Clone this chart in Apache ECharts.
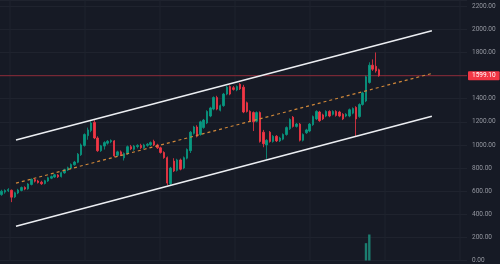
<!DOCTYPE html>
<html>
<head>
<meta charset="utf-8">
<script src="https://cdn.jsdelivr.net/npm/echarts@6/dist/echarts.min.js"></script>
<style>
html,body{margin:0;padding:0;background:#161a25;}
#chart{width:500px;height:264px;}
</style>
</head>
<body>
<div id="chart"></div>
<script>
// [open, close, low, high]
const candles = [
[570,600,560,612],[592,606,578,616],[604,614,592,626],[608,548,505,614],[550,586,540,594],
[584,610,574,620],[606,632,598,640],[632,618,608,642],[620,662,612,670],[658,702,650,710],
[700,686,675,712],[688,674,666,698],[678,664,654,690],[666,690,658,698],[688,716,680,724],
[712,726,704,736],[722,742,714,750],[740,724,714,748],[726,760,718,768],[758,786,750,794],
[782,802,774,812],[798,830,790,840],[828,852,820,862],[850,920,842,930],[915,1000,905,1012],
[995,1090,985,1100],[1080,1130,1045,1150],[1125,1190,1110,1205],[1195,1060,1050,1215],[1060,950,940,1075],
[950,992,940,1000],[990,1020,960,1032],[1015,1032,1002,1042],[1028,1038,1015,1048],[1035,905,895,1042],
[910,940,900,950],[940,915,905,952],[888,925,865,935],[925,985,915,995],[985,965,955,1000],
[962,990,950,1000],[986,996,970,1006],[996,976,964,1010],[976,1000,966,1010],[996,1006,984,1016],
[1002,1020,990,1030],[1030,1000,990,1045],[1000,975,965,1010],[975,935,925,985],[935,890,880,945],
[890,670,650,900],[665,800,650,810],[860,775,765,885],[780,870,770,880],[870,790,780,882],
[800,890,790,900],[885,960,875,970],[950,1110,930,1120],[1100,1155,1090,1165],[1155,1075,1065,1170],
[1090,1200,1080,1210],[1150,1215,1140,1225],[1190,1290,1180,1300],[1250,1320,1240,1330],[1310,1410,1300,1420],
[1410,1310,1300,1425],[1300,1340,1290,1350],[1340,1440,1330,1450],[1440,1500,1430,1510],[1505,1440,1430,1515],
[1495,1480,1470,1510],[1475,1505,1465,1515],[1525,1485,1475,1535],[1500,1285,1275,1520],[1365,1290,1280,1375],
[1290,1210,1200,1300],[1280,1200,1120,1290],[1205,1280,1195,1290],[1280,1030,1020,1290],[1110,1010,980,1130],
[1000,1040,880,1050],[1110,1030,1020,1120],[1030,1075,1020,1085],[1075,1035,1025,1085],[1035,1060,1025,1070],
[1050,1090,1040,1100],[1090,1150,1080,1160],[1140,1220,1130,1230],[1240,1160,1150,1250],[1160,1180,1150,1190],
[1180,1040,1030,1190],[1040,1090,1030,1100],[1105,1130,1095,1140],[1120,1180,1110,1190],[1175,1245,1165,1255],
[1225,1290,1215,1300],[1285,1210,1200,1295],[1260,1225,1215,1270],[1250,1290,1240,1300],[1290,1250,1240,1300],
[1265,1290,1255,1300],[1290,1255,1245,1300],[1285,1250,1240,1295],[1265,1225,1215,1275],[1250,1265,1240,1275],
[1250,1305,1240,1315],[1275,1315,1265,1325],[1325,1225,1075,1335],[1245,1350,1235,1360],[1350,1450,1340,1460],
[1380,1590,1370,1600],[1540,1690,1530,1715],[1690,1655,1640,1740],[1680,1640,1625,1800],[1650,1599.1,1590,1660]
];
const volumes = [
0,0,0,0,0,0,0,0,0,0, 0,0,0,0,0,0,0,0,0,0,
0,0,0,0,0,0,0,0,0,0, 0,0,0,0,0,0,0,0,0,0,
0,0,0,0,0,0,0,0,0,0, 0,0,0,0,0,0,0,0,0,0,
0,0,0,0,0,0,0,0,0,0, 0,0,0,0,0,0,0,0,0,0,
0,0,0,0,0,0,0,0,0,0, 0,0,0,0,0,0,0,0,0,0,
0,0,0,0,0,0,0,0,0,0, 150,225,0,0,0
];
const futureSlots = 26;           // empty bars to the right of the last candle
const lastPrice = 1599.10;
// channel drawn between two bar positions (bar index, price)
const channelBars = [4.33, 129.9];
const upperChannel = [1043, 1988];
const lowerChannel = [296, 1249];
const midChannel = [(upperChannel[0]+lowerChannel[0])/2, (upperChannel[1]+lowerChannel[1])/2];
// time-scale grid lines (bar index positions)
const timeTicks = [2.52, 25.16, 47.81, 70.45, 93.1, 115.74, 138.39];
const yMin = 0, yMax = 2254, yStep = 200;

const totalSlots = candles.length + futureSlots;
const categories = Array.from({length: totalSlots}, (_, i) => String(i + 1));
const volData = categories.map((_, i) => i < volumes.length ? volumes[i] : null);
const xLo = -0.5, xHi = totalSlots - 0.5;

const gridData = [];
timeTicks.forEach(t => { gridData.push([t, yMin], [t, yMax], [t, null]); });

const chart = echarts.init(document.getElementById('chart'), null, {renderer: 'canvas'});
const lineOf = (vals) => [[channelBars[0], vals[0]], [channelBars[1], vals[1]]];

chart.setOption({
  animation: false,
  backgroundColor: '#161a25',
  textStyle: {fontFamily: 'Roboto'},
  grid: {left: 0, top: 0, width: 467, bottom: 1.6},
  xAxis: [
    {type: 'category', data: categories, boundaryGap: true, show: false},
    {type: 'value', min: xLo, max: xHi, show: false}
  ],
  yAxis: {
    type: 'value', position: 'right', min: yMin, max: yMax, interval: yStep,
    axisLine: {show: false}, axisTick: {show: false},
    axisLabel: {color: '#9497a0', fontSize: 6.5, margin: 5, showMaxLabel: false,
      formatter: v => v.toFixed(2)},
    splitLine: {lineStyle: {color: '#1f232e', width: 1}}
  },
  series: [
    {
      name: 'timeGrid', type: 'line', xAxisIndex: 1, data: gridData, silent: true, z: 0,
      symbol: 'none', connectNulls: false,
      lineStyle: {color: '#1f232e', width: 1}
    },
    {
      name: 'volume', type: 'bar', data: volData, barWidth: '72%',
      itemStyle: {color: '#1b7d6f'}, silent: true
    },
    {
      name: 'price', type: 'candlestick', data: candles, barWidth: '58%',
      itemStyle: {color: '#089981', color0: '#f23645', borderColor: '#089981', borderColor0: '#f23645', borderWidth: 0.8}
    },
    {
      name: 'lastPrice', type: 'line', xAxisIndex: 1, data: [[xLo, lastPrice], [xHi, lastPrice]],
      symbol: 'none', silent: true, z: 1,
      lineStyle: {color: '#a02c39', width: 1, opacity: 0.85},
      endLabel: {
        show: true, distance: 1,
        formatter: () => lastPrice.toFixed(2),
        color: '#ffffff', backgroundColor: '#f23645', fontSize: 6.5, fontFamily: 'Roboto',
        padding: [1, 4, 1, 4], borderRadius: 1
      }
    },
    {
      name: 'upper', type: 'line', xAxisIndex: 1, data: lineOf(upperChannel),
      symbol: 'none', lineStyle: {color: '#eceef2', width: 1.6}, silent: true
    },
    {
      name: 'lower', type: 'line', xAxisIndex: 1, data: lineOf(lowerChannel),
      symbol: 'none', lineStyle: {color: '#eceef2', width: 1.6}, silent: true
    },
    {
      name: 'mid', type: 'line', xAxisIndex: 1, data: lineOf(midChannel),
      symbol: 'none', lineStyle: {color: '#d0883a', width: 1.2, type: [3, 3]}, silent: true
    }
  ]
});
</script>
</body>
</html>
